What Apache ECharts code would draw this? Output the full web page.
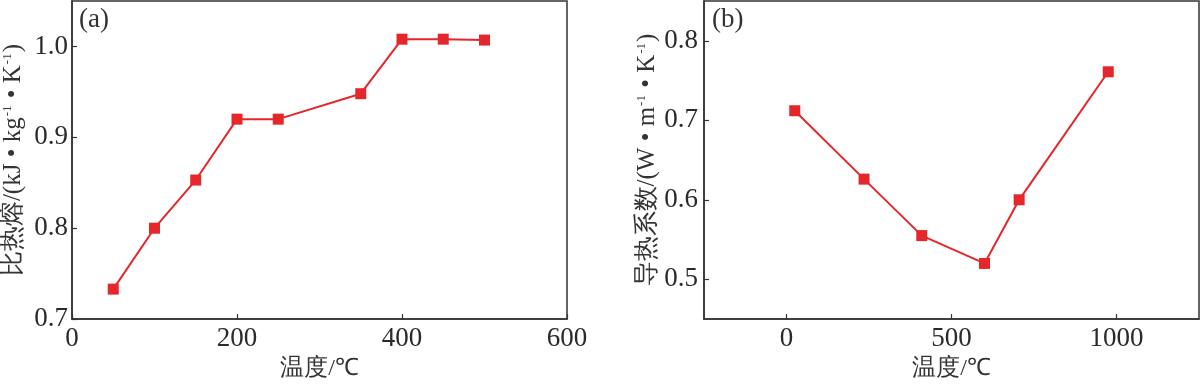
<!DOCTYPE html>
<html>
<head>
<meta charset="utf-8">
<script src="https://cdn.jsdelivr.net/npm/echarts@6/dist/echarts.min.js"></script>
<style>
html,body{margin:0;padding:0;background:#fff;}
#chart{width:1200px;height:386px;}
</style>
</head>
<body>
<div id="chart"></div>
<script>
// Panel (a): specific heat vs temperature
const tempA = [50, 100, 150, 200, 250, 350, 400, 450, 500];
const heatA = [0.733, 0.800, 0.853, 0.920, 0.920, 0.948, 1.008, 1.008, 1.007];
const xTicksA = [0, 200, 400, 600];
const yTicksA = [0.7, 0.8, 0.9, 1.0];

// Panel (b): thermal conductivity vs temperature
const tempB = [25, 235, 410, 600, 705, 975];
const condB = [0.712, 0.626, 0.555, 0.520, 0.600, 0.761];
const xTicksB = [0, 500, 1000];
const yTicksB = [0.5, 0.6, 0.7, 0.8];

const SERIF = "Liberation Serif";
const AX = '#333';
const RED = '#e5262a';

function xAxis(gridIndex, min, max, ticks) {
  return {
    type: 'value', gridIndex, min, max,
    name: '温度/℃', nameLocation: 'middle', nameGap: 29,
    nameTextStyle: {fontFamily: SERIF, fontSize: 24, color: '#333'},
    axisLine: {show: true, onZero: false, lineStyle: {color: AX, width: 1.5}},
    axisTick: {show: true, inside: true, length: 5, customValues: ticks, lineStyle: {color: AX, width: 1.2}},
    axisLabel: {customValues: ticks, fontFamily: SERIF, fontSize: 27, color: '#2a2a2a', margin: 6,
      formatter: v => String(v)},
    splitLine: {show: false}
  };
}
function yAxis(gridIndex, min, max, ticks, rich, name, gap, margin) {
  return {
    type: 'value', gridIndex, min, max,
    name, nameLocation: 'middle', nameGap: gap,
    nameTextStyle: {fontFamily: SERIF, fontSize: 24, color: '#333', rich},
    axisLine: {show: true, onZero: false, lineStyle: {color: AX, width: 1.5}},
    axisTick: {show: true, inside: true, length: 5, customValues: ticks, lineStyle: {color: AX, width: 1.2}},
    axisLabel: {customValues: ticks, fontFamily: SERIF, fontSize: 27, color: '#2a2a2a', margin,
      formatter: v => v.toFixed(1)},
    splitLine: {show: false}
  };
}
const rich = {
  t: {fontFamily: SERIF, fontSize: 25, color: '#333'},
  s: {fontFamily: SERIF, fontSize: 13, color: '#333', verticalAlign: 'top', padding: [0, 1, 12, 1]}
};

const chart = echarts.init(document.getElementById('chart'));
chart.setOption({
  animation: false,
  backgroundColor: '#fff',
  grid: [
    {left: 72, right: 633, top: 1, bottom: 57, show: true, borderColor: AX, borderWidth: 1.5},
    {left: 704, right: 1, top: 1, bottom: 57, show: true, borderColor: AX, borderWidth: 1.5}
  ],
  xAxis: [xAxis(0, 0, 600, xTicksA), xAxis(1, -250, 1250, xTicksB)],
  yAxis: [
    yAxis(0, 0.7, 1.05, yTicksA, rich, '{t|比热熔/(kJ • kg}{s|-1}{t| • K}{s|-1}{t|)}', 46, 4),
    yAxis(1, 0.45, 0.85, yTicksB, rich, '{t|导热系数/(W • m}{s|-1}{t| • K}{s|-1}{t|)}', 42, 6)
  ],
  graphic: [
    {type: 'text', left: 79, top: 6, style: {text: '(a)', font: "27px 'Liberation Serif'", fill: '#333'}},
    {type: 'text', left: 712, top: 6, style: {text: '(b)', font: "27px 'Liberation Serif'", fill: '#333'}}
  ],
  series: [
    {type: 'line', xAxisIndex: 0, yAxisIndex: 0, data: tempA.map((x, i) => [x, heatA[i]]),
     symbol: 'rect', symbolSize: 11, lineStyle: {color: RED, width: 2}, itemStyle: {color: RED}},
    {type: 'line', xAxisIndex: 1, yAxisIndex: 1, data: tempB.map((x, i) => [x, condB[i]]),
     symbol: 'rect', symbolSize: 11, lineStyle: {color: RED, width: 2}, itemStyle: {color: RED}}
  ]
});
</script>
</body>
</html>
